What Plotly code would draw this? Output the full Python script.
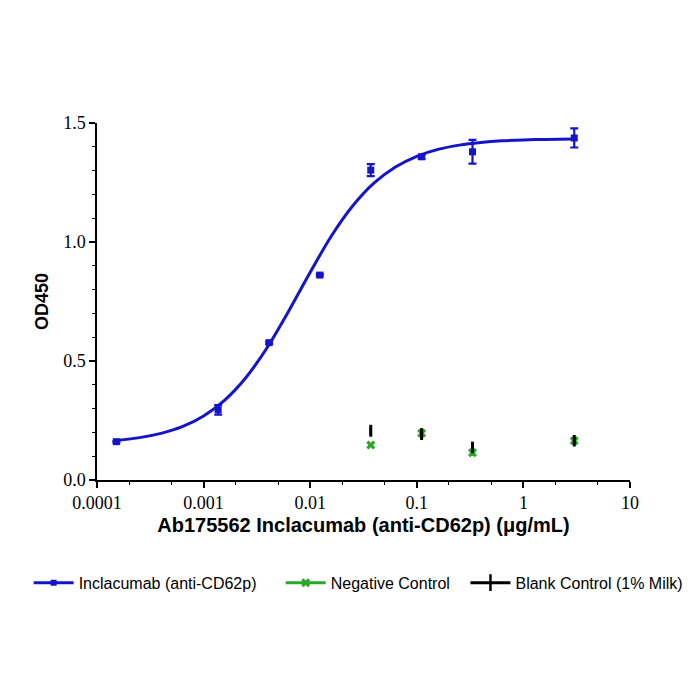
import plotly.graph_objects as go

# Concentrations (µg/mL), 3-fold dilutions
conc = [0.000152, 0.00137, 0.00412, 0.0123, 0.037, 0.111, 0.333, 3.0]
od_incl = [0.161, 0.295, 0.577, 0.861, 1.302, 1.358, 1.379, 1.437]
err_incl = [0.004, 0.02, 0.005, 0.005, 0.025, 0.008, 0.05, 0.04]

conc_ctrl = [0.037, 0.111, 0.333, 3.0]
od_neg = [0.147, 0.196, 0.115, 0.165]
err_neg = [0.004, 0.012, 0.01, 0.012]
od_blank = [0.207, 0.193, 0.137, 0.165]
err_blank = [0.025, 0.025, 0.024, 0.024]

# Fitted curve, values
curve_x = [0.000150, 0.000251, 0.000398, 0.000631, 0.001, 0.00158, 0.00251, 0.00398,
           0.00631, 0.01, 0.0158, 0.0251, 0.0398, 0.0631, 0.1, 0.158, 0.251, 0.398,
           0.631, 1.0, 1.58, 3.0]
curve_y = [0.166, 0.178, 0.196, 0.224, 0.269, 0.336, 0.432, 0.559,
           0.711, 0.873, 1.025, 1.152, 1.248, 1.315, 1.360, 1.389, 1.407, 1.418,
           1.425, 1.429, 1.431, 1.433]

x_tickvals = [0.0001, 0.001, 0.01, 0.1, 1, 10]
x_ticktext = ["0.0001", "0.001", "0.01", "0.1", "1", "10"]
y_tickvals = [0, 0.5, 1.0, 1.5]
y_ticktext = ["0.0", "0.5", "1.0", "1.5"]

BLUE = "#1414c8"
GREEN = "#2aa82a"
BLACK = "#000000"

fig = go.Figure()

fig.add_trace(go.Scatter(x=curve_x, y=curve_y, mode="lines",
                         line=dict(color=BLUE, width=3, shape="spline", smoothing=0.8),
                         showlegend=False, hoverinfo="skip"))
fig.add_trace(go.Scatter(x=conc, y=od_incl, mode="markers",
                         marker=dict(symbol="square", size=7, color=BLUE),
                         error_y=dict(type="data", array=err_incl, color=BLUE, thickness=2.2, width=4),
                         showlegend=False, cliponaxis=False))
fig.add_trace(go.Scatter(x=conc_ctrl, y=od_neg, mode="markers",
                         marker=dict(symbol="x", size=8, color=GREEN, line=dict(width=0)),
                         error_y=dict(type="data", array=err_neg, color=GREEN, thickness=2, width=2),
                         showlegend=False, cliponaxis=False))
fig.add_trace(go.Scatter(x=conc_ctrl, y=od_blank, mode="markers",
                         marker=dict(symbol="line-ns", size=6, color=BLACK, line=dict(width=2.5, color=BLACK)),
                         error_y=dict(type="data", array=err_blank, color=BLACK, thickness=3, width=0),
                         showlegend=False, cliponaxis=False))

# legend entries (one legend box each, spaced like the original)
fig.add_trace(go.Scatter(x=[None], y=[None], mode="lines+markers", name="Inclacumab (anti-CD62p)",
                         line=dict(color=BLUE, width=3), marker=dict(symbol="square", size=6, color=BLUE),
                         legend="legend"))
fig.add_trace(go.Scatter(x=[None], y=[None], mode="lines+markers", name="Negative Control",
                         line=dict(color=GREEN, width=3), marker=dict(symbol="x", size=8, color=GREEN),
                         legend="legend2"))
fig.add_trace(go.Scatter(x=[None], y=[None], mode="lines+markers", name="Blank Control (1% Milk)",
                         line=dict(color=BLACK, width=3),
                         marker=dict(symbol="line-ns", size=12, color=BLACK, line=dict(width=2.5, color=BLACK)),
                         legend="legend3"))

leg_common = dict(orientation="h", xanchor="left", y=-0.288, yanchor="middle",
                  font=dict(family="Liberation Sans, Arial", size=16), itemwidth=40,
                  bgcolor="rgba(0,0,0,0)")

fig.update_layout(
    width=700, height=700,
    margin=dict(l=97, r=69, t=123, b=220),
    paper_bgcolor="white", plot_bgcolor="white",
    font=dict(family="Liberation Sans, Arial", color="black"),
    legend=dict(x=-0.128, **leg_common),
    legend2=dict(x=0.344, **leg_common),
    legend3=dict(x=0.69, **leg_common),
    xaxis=dict(type="log", range=[-4, 1], showgrid=False, zeroline=False,
               showline=True, linecolor="black", linewidth=1.5,
               ticks="outside", ticklen=6, tickwidth=1.5, tickcolor="black",
               tickvals=x_tickvals, ticktext=x_ticktext,
               tickfont=dict(family="Liberation Serif, Times New Roman", size=18),
               minor=dict(ticks="outside", ticklen=3, tickwidth=1.2, tickcolor="black", showgrid=False),
               title=dict(text="<b>Ab175562 Inclacumab (anti-CD62p) (μg/mL)</b>",
                          font=dict(family="Liberation Sans, Arial", size=20), standoff=6)),
    yaxis=dict(range=[0, 1.5], showgrid=False, zeroline=False,
               showline=True, linecolor="black", linewidth=1.5,
               ticks="outside", ticklen=6, tickwidth=1.5, tickcolor="black",
               tickvals=y_tickvals, ticktext=y_ticktext,
               tickfont=dict(family="Liberation Serif, Times New Roman", size=18),
               minor=dict(ticks="outside", ticklen=3, tickwidth=1.2, tickcolor="black", dtick=0.1, showgrid=False),
               title=dict(text="<b>OD450</b>",
                          font=dict(family="Liberation Sans, Arial", size=18), standoff=10)),
)

fig.write_html("out.html")
